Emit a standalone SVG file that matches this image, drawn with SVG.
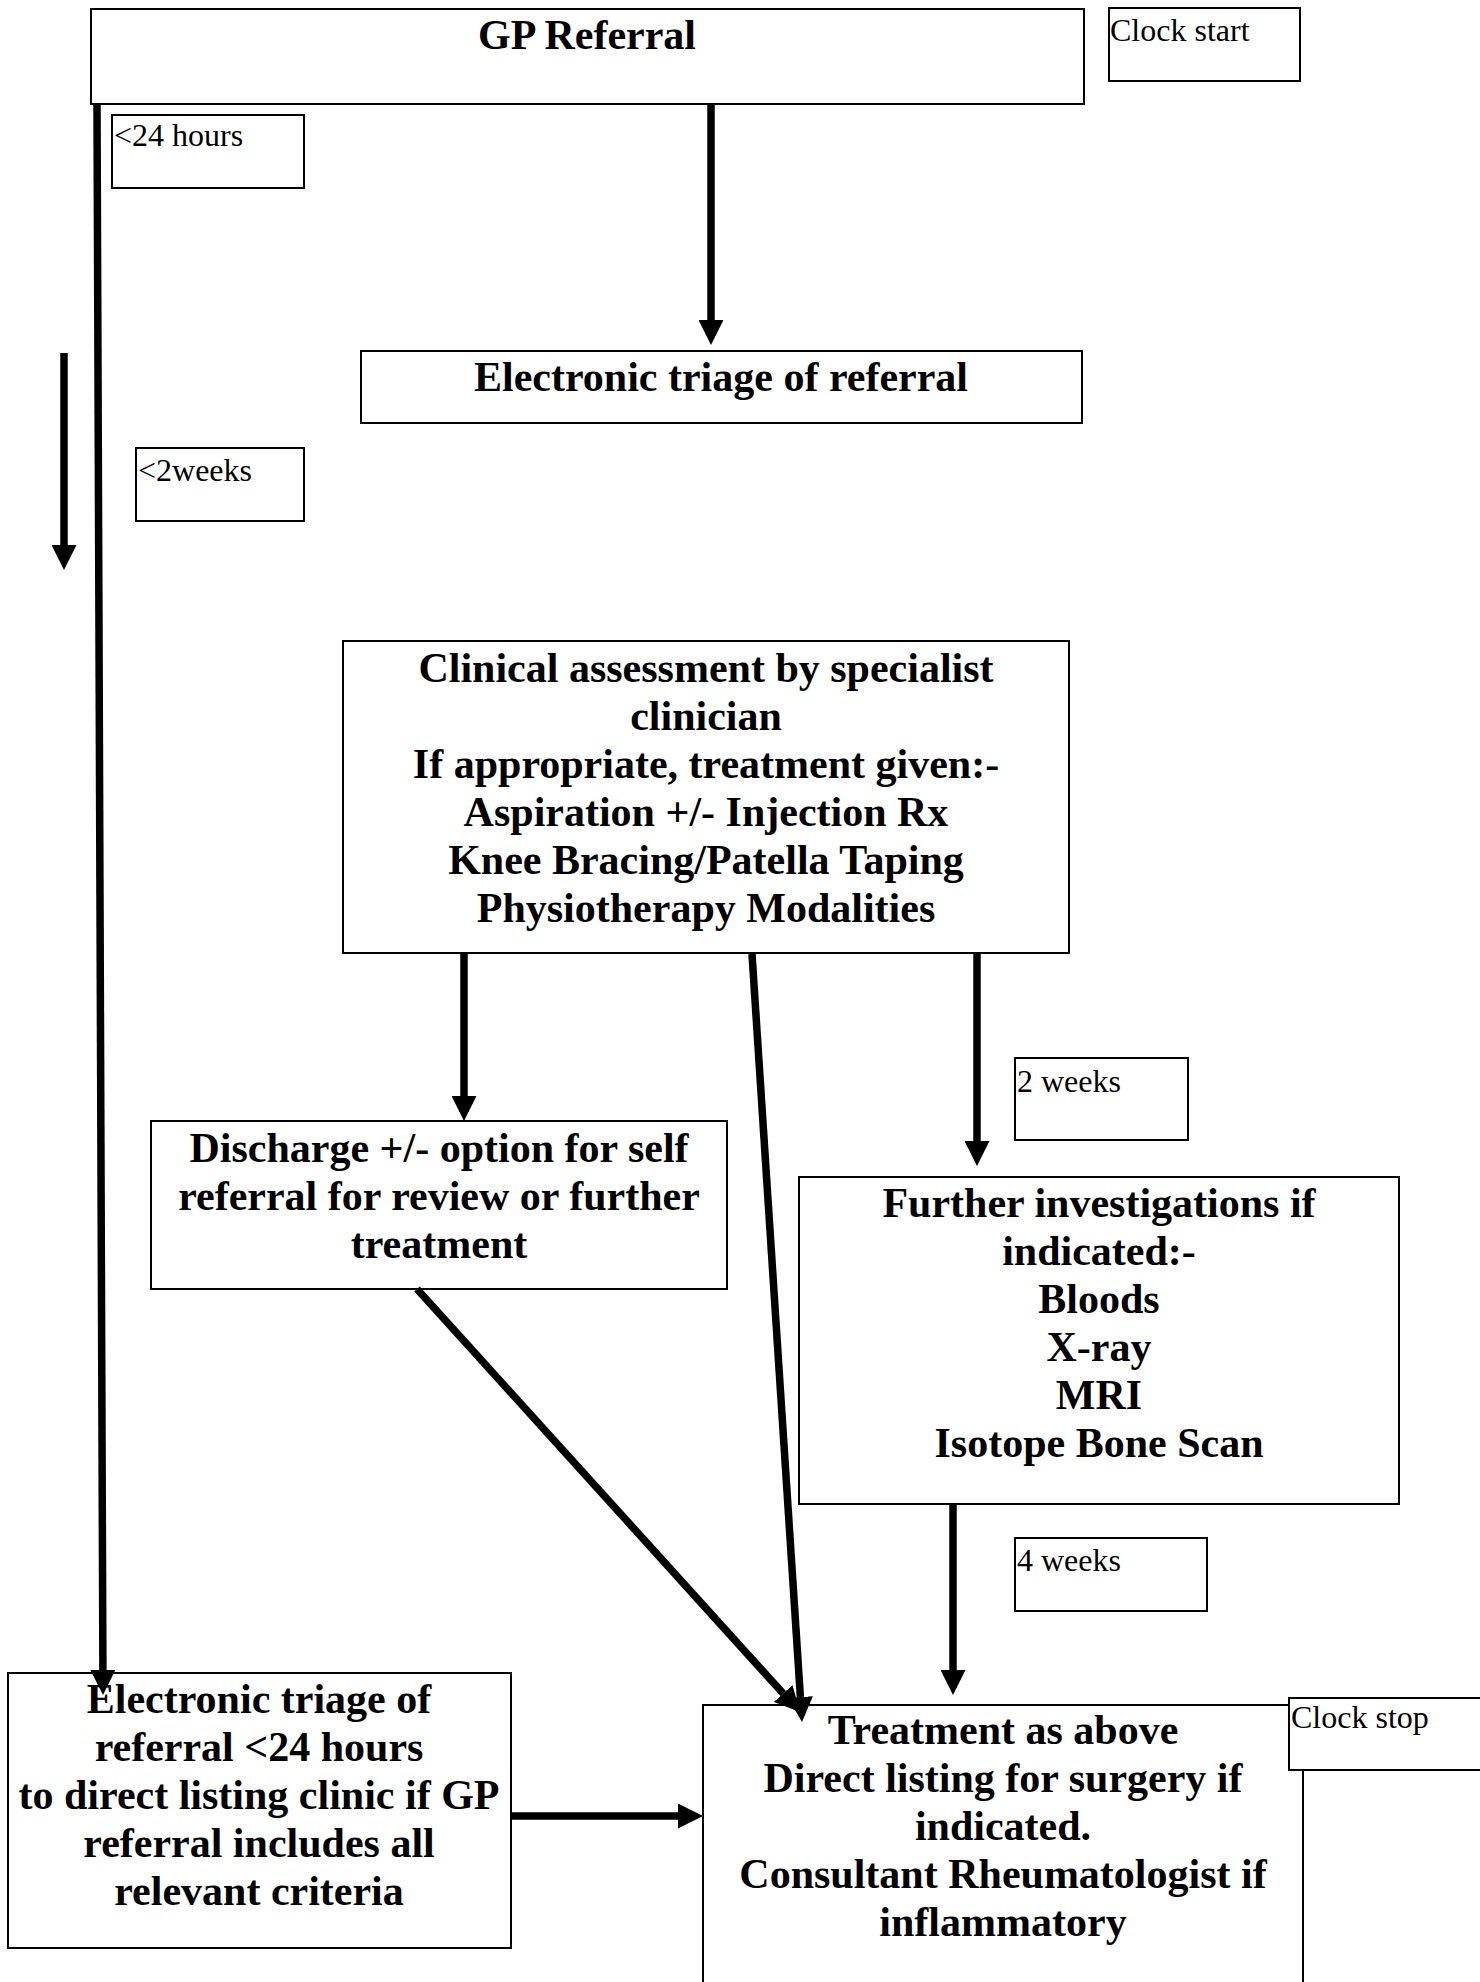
<svg xmlns="http://www.w3.org/2000/svg" width="1480" height="1982" viewBox="0 0 1480 1982">
<style>
.box{fill:#fff;stroke:#000;stroke-width:2}
.lbl{fill:#fff;stroke:#000;stroke-width:2}
.t{font-family:"Liberation Serif","Times New Roman",serif;font-weight:bold;font-size:42px;text-anchor:middle;fill:#000}
.s{font-family:"Liberation Serif","Times New Roman",serif;font-size:32px;fill:#000}
.c{stroke:#000;stroke-width:7.5;fill:none;marker-end:url(#ah)}
</style>
<defs>
<marker id="ah" markerUnits="userSpaceOnUse" viewBox="0 0 25 25" markerWidth="25" markerHeight="25" refX="0" refY="12.5" orient="auto">
<path d="M0,0 L25,12.5 L0,25 z" fill="#000"/>
</marker>
</defs>
<rect width="1480" height="1982" fill="#fff"/>

<g id="gp-referral">
<rect class="box" x="91" y="9" width="993" height="95"/>
<text class="t" x="587" y="49">GP Referral</text>
</g>
<g id="clock-start">
<rect class="lbl" x="1109" y="8" width="191" height="73"/>
<text class="s" x="1110" y="41">Clock start</text>
</g>
<g id="lbl-24h">
<rect class="lbl" x="112" y="115" width="192" height="73"/>
<text class="s" x="114" y="146">&lt;24 hours</text>
</g>
<g id="triage">
<rect class="box" x="361" y="351" width="721" height="72"/>
<text class="t" x="721" y="391">Electronic triage of referral</text>
</g>
<g id="lbl-2weeks-a">
<rect class="lbl" x="136" y="448" width="168" height="73"/>
<text class="s" x="138" y="481">&lt;2weeks</text>
</g>
<g id="clinical">
<rect class="box" x="343" y="641" width="726" height="312"/>
<text class="t" x="706" y="682">Clinical assessment by specialist</text>
<text class="t" x="706" y="730">clinician</text>
<text class="t" x="706" y="778">If appropriate, treatment given:-</text>
<text class="t" x="706" y="826">Aspiration +/- Injection Rx</text>
<text class="t" x="706" y="874">Knee Bracing/Patella Taping</text>
<text class="t" x="706" y="922">Physiotherapy Modalities</text>
</g>
<g id="discharge">
<rect class="box" x="151" y="1121" width="576" height="168"/>
<text class="t" x="439" y="1162">Discharge +/- option for self</text>
<text class="t" x="439" y="1210">referral for review or further</text>
<text class="t" x="439" y="1258">treatment</text>
</g>
<g id="lbl-2weeks-b">
<rect class="lbl" x="1015" y="1058" width="173" height="82"/>
<text class="s" x="1017" y="1092">2 weeks</text>
</g>
<g id="further">
<rect class="box" x="799" y="1177" width="600" height="327"/>
<text class="t" x="1099" y="1217">Further investigations if</text>
<text class="t" x="1099" y="1265">indicated:-</text>
<text class="t" x="1099" y="1313">Bloods</text>
<text class="t" x="1099" y="1361">X-ray</text>
<text class="t" x="1099" y="1409">MRI</text>
<text class="t" x="1099" y="1457">Isotope Bone Scan</text>
</g>
<g id="lbl-4weeks">
<rect class="lbl" x="1015" y="1538" width="192" height="73"/>
<text class="s" x="1017" y="1571">4 weeks</text>
</g>
<g id="direct-triage">
<rect class="box" x="8" y="1673" width="503" height="275"/>
<text class="t" x="259" y="1713">Electronic triage of</text>
<text class="t" x="259" y="1761">referral &lt;24 hours</text>
<text class="t" x="259" y="1809">to direct listing clinic if GP</text>
<text class="t" x="259" y="1857">referral includes all</text>
<text class="t" x="259" y="1905">relevant criteria</text>
</g>
<g id="treatment">
<rect class="box" x="703" y="1705" width="600" height="300"/>
<text class="t" x="1003" y="1744">Treatment as above</text>
<text class="t" x="1003" y="1792">Direct listing for surgery if</text>
<text class="t" x="1003" y="1840">indicated.</text>
<text class="t" x="1003" y="1888">Consultant Rheumatologist if</text>
<text class="t" x="1003" y="1936">inflammatory</text>
</g>
<g id="clock-stop">
<rect class="lbl" x="1289" y="1698" width="200" height="72"/>
<text class="s" x="1291" y="1728">Clock stop</text>
</g>

<g id="connectors">
<line class="c" x1="711" y1="105" x2="711" y2="320"/>
<line class="c" x1="64" y1="353" x2="64" y2="545"/>
<line class="c" x1="97" y1="105" x2="102.9" y2="1670"/>
<line class="c" x1="464" y1="954" x2="464" y2="1096"/>
<line class="c" x1="752" y1="954" x2="800.4" y2="1697"/>
<line class="c" x1="417" y1="1289" x2="783.2" y2="1693.5"/>
<line class="c" x1="977" y1="954" x2="977" y2="1141"/>
<line class="c" x1="953" y1="1504" x2="953" y2="1670"/>
<line class="c" x1="511" y1="1816" x2="678" y2="1816"/>
</g>
</svg>
